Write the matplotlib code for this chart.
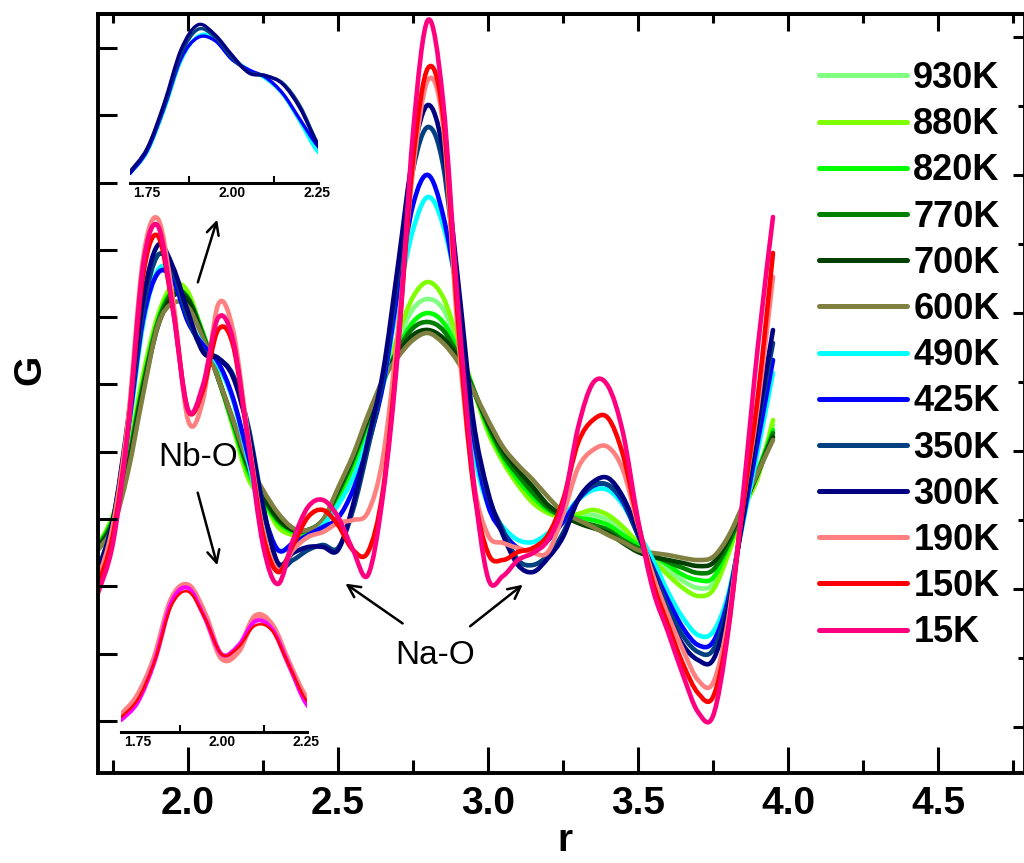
import matplotlib
matplotlib.use("Agg")
import numpy as np
import matplotlib.pyplot as plt
from matplotlib.ticker import FixedLocator, NullFormatter
from matplotlib.font_manager import FontProperties
from matplotlib.path import Path
from matplotlib.patches import PathPatch
from matplotlib.lines import Line2D

# ---------------- data (r in Angstrom, G in arbitrary units) ----------------
r = [1.70, 1.75, 1.80, 1.85, 1.90, 1.95, 2.00, 2.05, 2.10, 2.15,
     2.20, 2.25, 2.30, 2.35, 2.40, 2.45, 2.50, 2.55, 2.60, 2.65,
     2.70, 2.75, 2.80, 2.85, 2.90, 2.95, 3.00, 3.05, 3.10, 3.15,
     3.20, 3.25, 3.30, 3.35, 3.40, 3.45, 3.50, 3.55, 3.60, 3.65,
     3.70, 3.75, 3.80, 3.85, 3.90, 3.95]

G_930K = [1.75, 2.04, 2.63, 3.42, 4.03, 4.33, 4.26, 3.87, 3.45, 2.95,
          2.46, 2.21, 1.97, 1.88, 1.88, 1.98, 2.22, 2.53, 2.92, 3.37,
          3.80, 4.12, 4.22, 4.12, 3.76, 3.33, 2.91, 2.61, 2.39, 2.21,
          2.10, 2.05, 2.05, 2.06, 2.01, 1.90, 1.77, 1.63, 1.51, 1.40,
          1.33, 1.37, 1.70, 2.12, 2.48, 2.96]
G_880K = [1.76, 2.06, 2.66, 3.46, 4.06, 4.36, 4.29, 3.86, 3.46, 2.94,
          2.43, 2.21, 1.94, 1.86, 1.86, 1.96, 2.21, 2.51, 2.89, 3.36,
          3.86, 4.24, 4.39, 4.24, 3.81, 3.33, 2.89, 2.59, 2.36, 2.18,
          2.08, 2.04, 2.07, 2.11, 2.06, 1.94, 1.78, 1.61, 1.46, 1.33,
          1.25, 1.31, 1.66, 2.11, 2.44, 3.01]
G_820K = [1.76, 2.03, 2.61, 3.38, 4.01, 4.31, 4.23, 3.88, 3.43, 2.96,
          2.49, 2.21, 1.99, 1.89, 1.89, 1.99, 2.24, 2.56, 2.96, 3.38,
          3.73, 3.99, 4.08, 3.99, 3.71, 3.33, 2.93, 2.63, 2.41, 2.24,
          2.11, 2.06, 2.03, 2.01, 1.96, 1.86, 1.76, 1.66, 1.56, 1.46,
          1.41, 1.43, 1.73, 2.13, 2.51, 2.91]
G_770K = [1.74, 2.01, 2.59, 3.36, 3.99, 4.29, 4.23, 3.86, 3.43, 2.99,
          2.53, 2.24, 2.01, 1.91, 1.91, 2.01, 2.28, 2.61, 3.01, 3.41,
          3.71, 3.93, 3.99, 3.91, 3.66, 3.33, 2.96, 2.66, 2.46, 2.28,
          2.13, 2.04, 1.99, 1.96, 1.91, 1.81, 1.73, 1.66, 1.59, 1.53,
          1.48, 1.51, 1.76, 2.13, 2.49, 2.88]
G_700K = [1.73, 1.98, 2.55, 3.31, 3.95, 4.25, 4.21, 3.84, 3.43, 3.01,
          2.56, 2.26, 2.03, 1.91, 1.91, 2.01, 2.31, 2.64, 3.03, 3.41,
          3.68, 3.86, 3.91, 3.83, 3.63, 3.31, 2.98, 2.71, 2.51, 2.34,
          2.16, 2.06, 1.98, 1.93, 1.88, 1.78, 1.69, 1.64, 1.61, 1.58,
          1.55, 1.58, 1.81, 2.14, 2.48, 2.84]
G_600K = [1.71, 1.94, 2.49, 3.26, 3.96, 4.18, 4.14, 3.83, 3.43, 3.01,
          2.59, 2.31, 2.08, 1.93, 1.91, 2.01, 2.33, 2.66, 3.06, 3.41,
          3.64, 3.81, 3.88, 3.78, 3.59, 3.31, 3.01, 2.74, 2.56, 2.41,
          2.24, 2.09, 2.01, 1.94, 1.86, 1.79, 1.71, 1.68, 1.66, 1.63,
          1.61, 1.64, 1.84, 2.16, 2.49, 2.81]
G_490K = [1.46, 1.93, 2.86, 3.96, 4.51, 4.46, 4.03, 3.76, 3.56, 3.21,
          2.61, 1.96, 1.71, 1.76, 1.84, 1.96, 2.16, 2.43, 2.84, 3.36,
          4.21, 4.91, 5.24, 4.96, 4.21, 2.76, 2.16, 1.94, 1.81, 1.79,
          1.88, 2.04, 2.21, 2.31, 2.31, 2.16, 1.89, 1.61, 1.29, 1.03,
          0.86, 0.89, 1.26, 1.98, 2.71, 3.48]
G_425K = [1.46, 1.96, 2.91, 4.01, 4.48, 4.41, 3.99, 3.76, 3.59, 3.23,
          2.66, 2.09, 1.71, 1.78, 1.86, 1.94, 2.03, 2.31, 2.76, 3.36,
          4.31, 5.16, 5.46, 5.06, 4.21, 2.89, 2.16, 1.89, 1.73, 1.71,
          1.81, 1.99, 2.21, 2.35, 2.36, 2.19, 1.86, 1.53, 1.21, 0.93,
          0.76, 0.79, 1.21, 2.01, 2.81, 3.61]
G_350K = [1.51, 2.01, 2.96, 4.11, 4.66, 4.49, 4.03, 3.71, 3.63, 3.46,
          2.96, 2.16, 1.56, 1.61, 1.71, 1.76, 1.73, 2.11, 2.73, 3.43,
          4.46, 5.51, 5.94, 5.56, 4.31, 2.96, 2.26, 1.91, 1.61, 1.56,
          1.66, 1.88, 2.21, 2.36, 2.36, 2.21, 1.86, 1.51, 1.13, 0.85,
          0.69, 0.71, 1.16, 2.06, 2.96, 3.78]
G_300K = [1.49, 2.01, 3.01, 4.21, 4.76, 4.54, 4.09, 3.69, 3.63, 3.44,
          2.91, 2.14, 1.58, 1.68, 1.74, 1.74, 1.71, 2.16, 2.81, 3.49,
          4.56, 5.66, 6.16, 5.71, 4.41, 3.03, 2.29, 1.86, 1.56, 1.49,
          1.63, 1.84, 2.21, 2.39, 2.43, 2.24, 1.89, 1.48, 1.06, 0.76,
          0.61, 0.61, 1.11, 2.06, 3.01, 3.91]
G_190K = [1.41, 1.96, 3.01, 4.62, 5.02, 4.21, 3.01, 3.21, 4.16, 3.91,
          2.86, 1.91, 1.51, 1.71, 1.84, 1.89, 1.98, 2.01, 2.09, 2.64,
          3.91, 5.51, 6.41, 5.96, 3.86, 2.43, 1.86, 1.78, 1.73, 1.68,
          1.69, 2.06, 2.53, 2.71, 2.74, 2.51, 1.96, 1.46, 1.06, 0.71,
          0.41, 0.38, 1.01, 2.16, 3.16, 4.44]
G_150K = [1.36, 1.86, 2.91, 4.45, 4.85, 4.11, 3.11, 3.31, 3.91, 3.76,
          2.81, 1.86, 1.49, 1.76, 2.04, 2.11, 1.96, 1.71, 1.69, 2.31,
          3.76, 5.61, 6.53, 6.06, 4.01, 2.38, 1.68, 1.61, 1.69, 1.73,
          1.86, 2.21, 2.78, 3.01, 3.03, 2.66, 1.99, 1.38, 0.96, 0.57,
          0.28, 0.24, 0.91, 2.16, 3.26, 4.68]
G_15K = [1.28, 1.78, 2.91, 4.55, 4.95, 4.11, 3.11, 3.36, 4.03, 3.81,
         2.81, 1.76, 1.37, 1.81, 2.14, 2.21, 2.04, 1.71, 1.46, 2.26,
         3.71, 5.88, 7.01, 6.21, 4.16, 2.46, 1.43, 1.45, 1.61, 1.68,
         1.81, 2.16, 2.93, 3.38, 3.35, 2.88, 2.01, 1.31, 0.89, 0.46,
         0.09, 0.05, 0.88, 2.26, 3.76, 5.04]

temps = ["930K", "880K", "820K", "770K", "700K", "600K", "490K",
         "425K", "350K", "300K", "190K", "150K", "15K"]
series = [G_930K, G_880K, G_820K, G_770K, G_700K, G_600K, G_490K,
          G_425K, G_350K, G_300K, G_190K, G_150K, G_15K]
colors = ["#80FF80", "#80FF00", "#00FF00", "#008000", "#004000", "#808040",
          "#00FFFF", "#0000FF", "#004080", "#000080", "#FF8080", "#FF0000",
          "#FF0080"]

x_major = [2.0, 2.5, 3.0, 3.5, 4.0, 4.5]
x_labels = ["2.0", "2.5", "3.0", "3.5", "4.0", "4.5"]
x_minor = [1.75, 2.25, 2.75, 3.25, 3.75, 4.25, 4.75]
inset_ticks = [1.75, 2.00, 2.25]
inset_labels = ["1.75", "2.00", "2.25"]
inset_minor = [1.875, 2.125]


def smooth_line(a, xs, ys, color, lw):
    """Draw a smooth (spline-connected) line through the read points."""
    pts = np.column_stack([xs, ys]).astype(float)
    n = len(pts)
    verts = [pts[0]]
    codes = [Path.MOVETO]
    for i in range(n - 1):
        p0 = pts[i - 1] if i > 0 else pts[i]
        p1 = pts[i]
        p2 = pts[i + 1]
        p3 = pts[i + 2] if i + 2 < n else pts[i + 1]
        verts += [p1 + (p2 - p0) / 6.0, p2 - (p3 - p1) / 6.0, p2]
        codes += [Path.CURVE4] * 3
    patch = PathPatch(Path(verts, codes), fill=False, edgecolor=color, lw=lw,
                      capstyle="round", joinstyle="round")
    a.add_patch(patch)


# ---------------- figure ----------------
W, H = 1024, 863
fig = plt.figure(figsize=(W / 100, H / 100), dpi=100)
fig.patch.set_facecolor("white")

narrow_bold = dict(family=["Liberation Sans Narrow", "Liberation Sans", "DejaVu Sans"],
                   weight="bold")

ax = fig.add_axes([98 / W, 90 / H, 927 / W, 759 / H])
ax.set_xlim(1.70, 4.79)
ax.set_ylim(-0.52, 7.07)

for t, g, c in zip(temps, series, colors):
    smooth_line(ax, r, g, c, 3.3)

for sp in ax.spines.values():
    sp.set_linewidth(2.8)

ax.set_xticks(x_major, labels=x_labels, fontsize=28, **narrow_bold)
ax.xaxis.set_minor_locator(FixedLocator(x_minor))
ax.tick_params(axis="x", which="major", direction="in", length=19, width=2.2, pad=9)
ax.tick_params(axis="x", which="minor", direction="in", length=9.5, width=2.2)
ax.set_yticks([0.673 * k for k in range(11)])
ax.yaxis.set_major_formatter(NullFormatter())
ax.tick_params(axis="y", which="major", direction="in", length=14, width=2.2)

# top ticks
secx = ax.secondary_xaxis("top")
secx.set_xticks(x_major)
secx.xaxis.set_major_formatter(NullFormatter())
secx.xaxis.set_minor_locator(FixedLocator(x_minor))
secx.tick_params(axis="x", which="major", direction="in", length=12, width=2.2)
secx.tick_params(axis="x", which="minor", direction="in", length=6.5, width=2.2)
secx.spines["top"].set_linewidth(2.8)

# right ticks
secy = ax.secondary_yaxis("right")
secy.set_yticks([6.84, 5.46, 4.08, 2.70, 1.32, -0.06])
secy.yaxis.set_minor_locator(FixedLocator([6.15, 4.77, 3.39, 2.01, 0.63]))
secy.yaxis.set_major_formatter(NullFormatter())
secy.tick_params(axis="y", which="major", direction="in", length=9, width=2.2)
secy.tick_params(axis="y", which="minor", direction="in", length=5, width=2.2)

# legend
handles = [Line2D([], [], color=c, lw=3.6, solid_capstyle="round") for c in colors]
leg = ax.legend(handles, temps, loc="upper left",
                bbox_to_anchor=(819 / W, 1 - 61 / H),
                bbox_transform=fig.transFigure, frameon=False,
                prop=FontProperties(family="Liberation Sans", weight="bold", size=26),
                handlelength=2.44, handletextpad=0.17, labelspacing=0.31,
                borderpad=0, borderaxespad=0)

# annotations
ax.text(2.033, 2.63, "Nb-O", fontsize=24, ha="center", va="center",
        family="Liberation Sans")
ax.text(2.823, 0.66, "Na-O", fontsize=24, ha="center", va="center",
        family="Liberation Sans")
arrow = dict(arrowstyle="->", color="black", lw=1.8, mutation_scale=22)
ax.annotate("", xy=(2.10, 5.04), xytext=(2.03, 4.36), arrowprops=arrow)
ax.annotate("", xy=(2.10, 1.53), xytext=(2.03, 2.31), arrowprops=arrow)
ax.annotate("", xy=(2.517, 1.39), xytext=(2.723, 0.96), arrowprops=arrow)
ax.annotate("", xy=(3.123, 1.38), xytext=(2.933, 0.93), arrowprops=arrow)

fig.text(30 / W, 1 - 370 / H, "G", rotation=90, ha="center", va="center",
         fontsize=28, fontweight="bold", family="Liberation Sans")
fig.text(565 / W, 1 - 841 / H, "r", ha="center", va="center",
         fontsize=28, fontweight="bold", family="Liberation Sans")


def style_inset(a):
    a.set_facecolor("none")
    for k in ("top", "left", "right"):
        a.spines[k].set_visible(False)
    a.spines["bottom"].set_linewidth(2.2)
    a.set_yticks([])
    a.set_xticks(inset_ticks, labels=inset_labels, fontsize=10, **narrow_bold)
    a.xaxis.set_minor_locator(FixedLocator(inset_minor))
    a.tick_params(axis="x", which="major", direction="in", length=0, pad=2)
    a.tick_params(axis="x", which="minor", direction="in", length=5, width=1.5)


# inset 1: 300-490 K first peak
ax1 = fig.add_axes([130 / W, (H - 183) / H, 188 / W, 169 / H])
style_inset(ax1)
ax1.set_xlim(1.70, 2.253)
ax1.set_ylim(1.25, 5.0)
for t, g, c in zip(temps, series, colors):
    if t in ("490K", "425K", "350K", "300K"):
        smooth_line(ax1, r, g, c, 2.4)

# inset 2: low temperature first peak
ax2 = fig.add_axes([121 / W, (H - 732) / H, 186 / W, 172 / H])
style_inset(ax2)
ax2.set_xlim(1.70, 2.254)
ax2.set_ylim(0.95, 5.73)
smooth_line(ax2, r, G_190K, "#FF8080", 4.5)
smooth_line(ax2, r, G_15K, "#FF00FF", 3.0)
smooth_line(ax2, r, G_150K, "#FF0000", 1.8)

fig.savefig("out.png", dpi=100)
